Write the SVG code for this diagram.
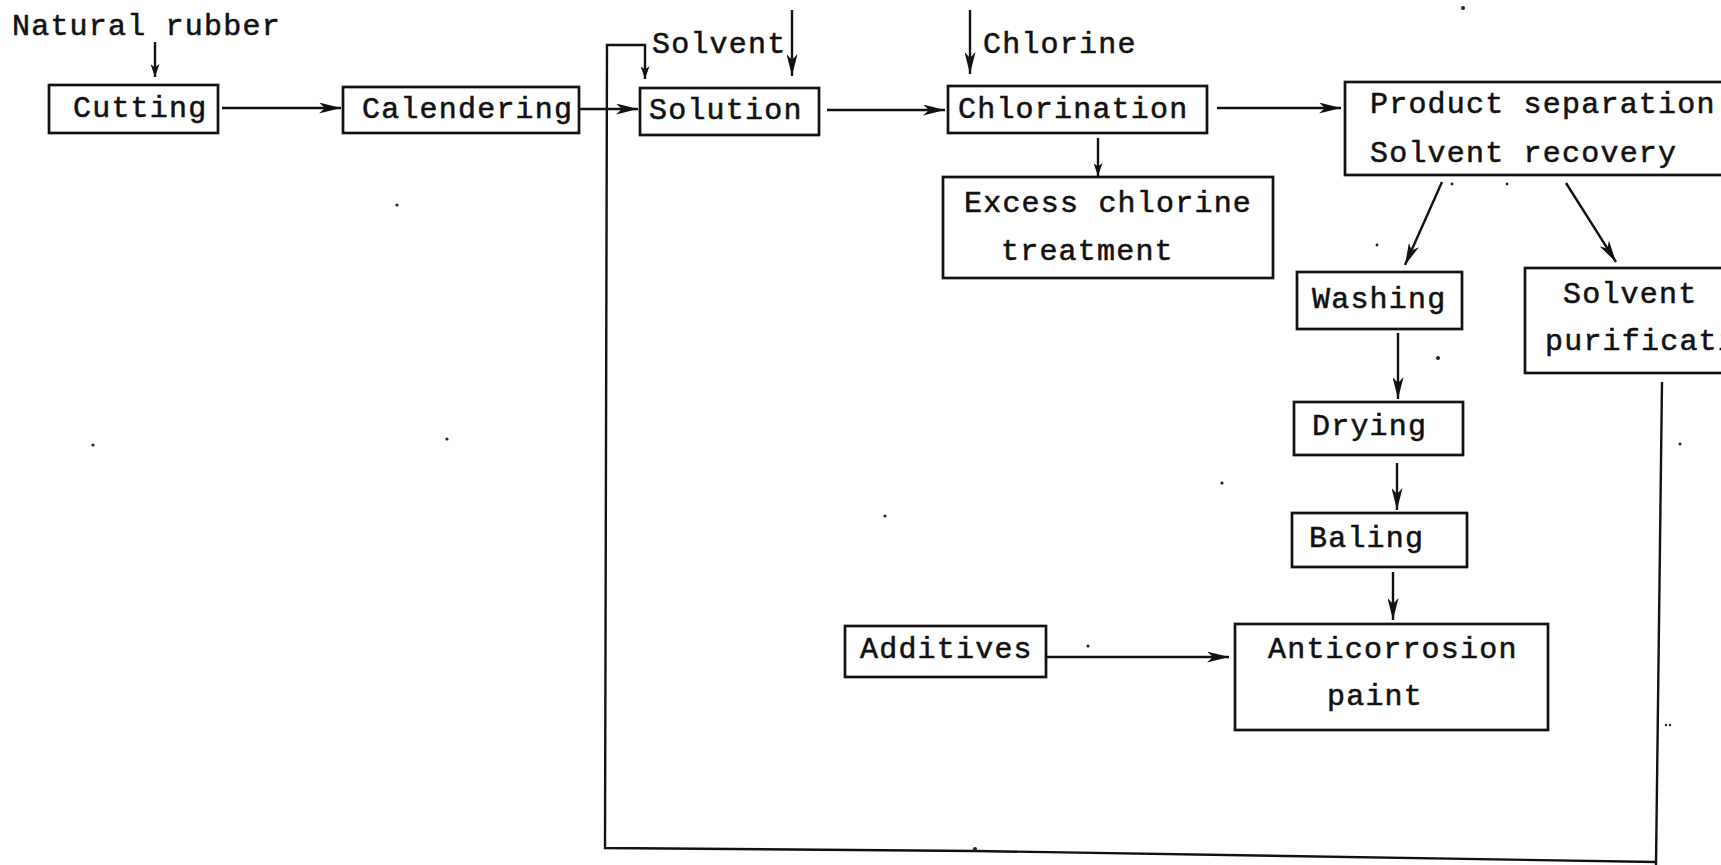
<svg xmlns="http://www.w3.org/2000/svg" width="1721" height="865" viewBox="0 0 1721 865">
  <style>
    .box { fill: none; stroke: #111; stroke-width: 2.7; }
    .lbl { font-family: "Liberation Mono", "DejaVu Sans Mono", monospace; font-size: 30px; letter-spacing: 1.2px; fill: #111; stroke: #111; stroke-width: 0.55; }
    .flow { fill: none; stroke: #111; stroke-width: 2.4; }
    .speck { fill: #222; }
  </style>
  <defs>
    <marker id="ah" viewBox="0 0 22 11" refX="22" refY="5.5" markerWidth="22" markerHeight="11" orient="auto" markerUnits="userSpaceOnUse">
      <path d="M0,0 L22,5.5 L0,11 L6,5.5 z" fill="#111"/>
    </marker>
    <marker id="ahs" viewBox="0 0 13 9" refX="13" refY="4.5" markerWidth="13" markerHeight="9" orient="auto" markerUnits="userSpaceOnUse">
      <path d="M0,0 L13,4.5 L0,9 L3.5,4.5 z" fill="#111"/>
    </marker>
  </defs>
  <rect width="1721" height="865" fill="#ffffff"/>

  <!-- feed labels -->
  <g id="feed-rubber"><text class="lbl" x="12" y="35">Natural rubber</text></g>
  <g id="feed-solvent"><text class="lbl" x="652" y="53">Solvent</text></g>
  <g id="feed-chlorine"><text class="lbl" x="983" y="53">Chlorine</text></g>

  <!-- process steps -->
  <g id="cutting">
    <rect class="box" x="49" y="85" width="169" height="48"/>
    <text class="lbl" x="73" y="117">Cutting</text>
  </g>
  <g id="calendering">
    <rect class="box" x="343" y="87" width="236" height="46"/>
    <text class="lbl" x="362" y="118">Calendering</text>
  </g>
  <g id="solution">
    <rect class="box" x="640" y="88" width="179" height="47"/>
    <text class="lbl" x="649" y="119">Solution</text>
  </g>
  <g id="chlorination">
    <rect class="box" x="948" y="86" width="259" height="47"/>
    <text class="lbl" x="958" y="118">Chlorination</text>
  </g>
  <g id="excess-chlorine">
    <rect class="box" x="943" y="177" width="330" height="101"/>
    <text class="lbl" x="964" y="212">Excess chlorine</text>
    <text class="lbl" x="1001" y="260">treatment</text>
  </g>
  <g id="separation">
    <rect class="box" x="1345" y="82" width="420" height="93"/>
    <text class="lbl" x="1370" y="113">Product separation</text>
    <text class="lbl" x="1370" y="162">Solvent recovery</text>
  </g>
  <g id="washing">
    <rect class="box" x="1297" y="272" width="165" height="57"/>
    <text class="lbl" x="1312" y="308">Washing</text>
  </g>
  <g id="solvent-purification">
    <rect class="box" x="1525" y="268" width="250" height="105"/>
    <text class="lbl" x="1563" y="303">Solvent</text>
    <text class="lbl" x="1545" y="350">purification</text>
  </g>
  <g id="drying">
    <rect class="box" x="1294" y="402" width="169" height="53"/>
    <text class="lbl" x="1312" y="435">Drying</text>
  </g>
  <g id="baling">
    <rect class="box" x="1292" y="513" width="175" height="54"/>
    <text class="lbl" x="1309" y="547">Baling</text>
  </g>
  <g id="additives">
    <rect class="box" x="845" y="626" width="201" height="51"/>
    <text class="lbl" x="860" y="658">Additives</text>
  </g>
  <g id="anticorrosion-paint">
    <rect class="box" x="1235" y="624" width="313" height="106"/>
    <text class="lbl" x="1268" y="658">Anticorrosion</text>
    <text class="lbl" x="1327" y="705">paint</text>
  </g>

  <!-- connectors -->
  <g id="connectors">
    <line class="flow" x1="155" y1="42" x2="155" y2="77" marker-end="url(#ahs)"/>
    <line class="flow" x1="222" y1="108" x2="341" y2="108" marker-end="url(#ah)"/>
    <line class="flow" x1="580" y1="109" x2="638" y2="109" marker-end="url(#ah)"/>
    <line class="flow" x1="792" y1="10" x2="792" y2="76" marker-end="url(#ah)"/>
    <line class="flow" x1="827" y1="110" x2="945" y2="110" marker-end="url(#ah)"/>
    <line class="flow" x1="970" y1="10" x2="970" y2="74" marker-end="url(#ah)"/>
    <line class="flow" x1="1098" y1="138" x2="1098" y2="176" marker-end="url(#ahs)"/>
    <line class="flow" x1="1217" y1="108" x2="1341" y2="108" marker-end="url(#ah)"/>
    <line class="flow" x1="1442" y1="182" x2="1405" y2="265" marker-end="url(#ah)"/>
    <line class="flow" x1="1566" y1="183" x2="1616" y2="262" marker-end="url(#ah)"/>
    <line class="flow" x1="1398" y1="333" x2="1398" y2="399" marker-end="url(#ah)"/>
    <line class="flow" x1="1397" y1="463" x2="1397" y2="510" marker-end="url(#ah)"/>
    <line class="flow" x1="1393" y1="572" x2="1393" y2="620" marker-end="url(#ah)"/>
    <line class="flow" x1="1047" y1="657" x2="1229" y2="657" marker-end="url(#ah)"/>
    <!-- solvent recycle loop back to the solution step -->
    <polyline class="flow" points="1662,382 1656,865"/>
    <polyline class="flow" points="1656,862 975,851 605,848 607,45 645,45 645,79" marker-end="url(#ahs)"/>
  </g>

  <!-- loose specks on the sheet -->
  <g id="specks">
    <circle class="speck" cx="1463" cy="8" r="2"/>
    <circle class="speck" cx="397" cy="205" r="1.6"/>
    <circle class="speck" cx="93" cy="445" r="1.6"/>
    <circle class="speck" cx="447" cy="439" r="1.6"/>
    <circle class="speck" cx="1438" cy="358" r="2"/>
    <circle class="speck" cx="1222" cy="483" r="1.6"/>
    <circle class="speck" cx="885" cy="516" r="1.6"/>
    <circle class="speck" cx="1088" cy="646" r="1.6"/>
    <circle class="speck" cx="1680" cy="444" r="1.5"/>
    <circle class="speck" cx="1666" cy="725" r="1.2"/>
    <circle class="speck" cx="1670" cy="725" r="1.2"/>
    <circle class="speck" cx="1452" cy="184" r="1.4"/>
    <circle class="speck" cx="1507" cy="184" r="1.4"/>
    <circle class="speck" cx="1377" cy="245" r="1.4"/>
    <circle class="speck" cx="975" cy="849" r="2"/>
  </g>
</svg>
